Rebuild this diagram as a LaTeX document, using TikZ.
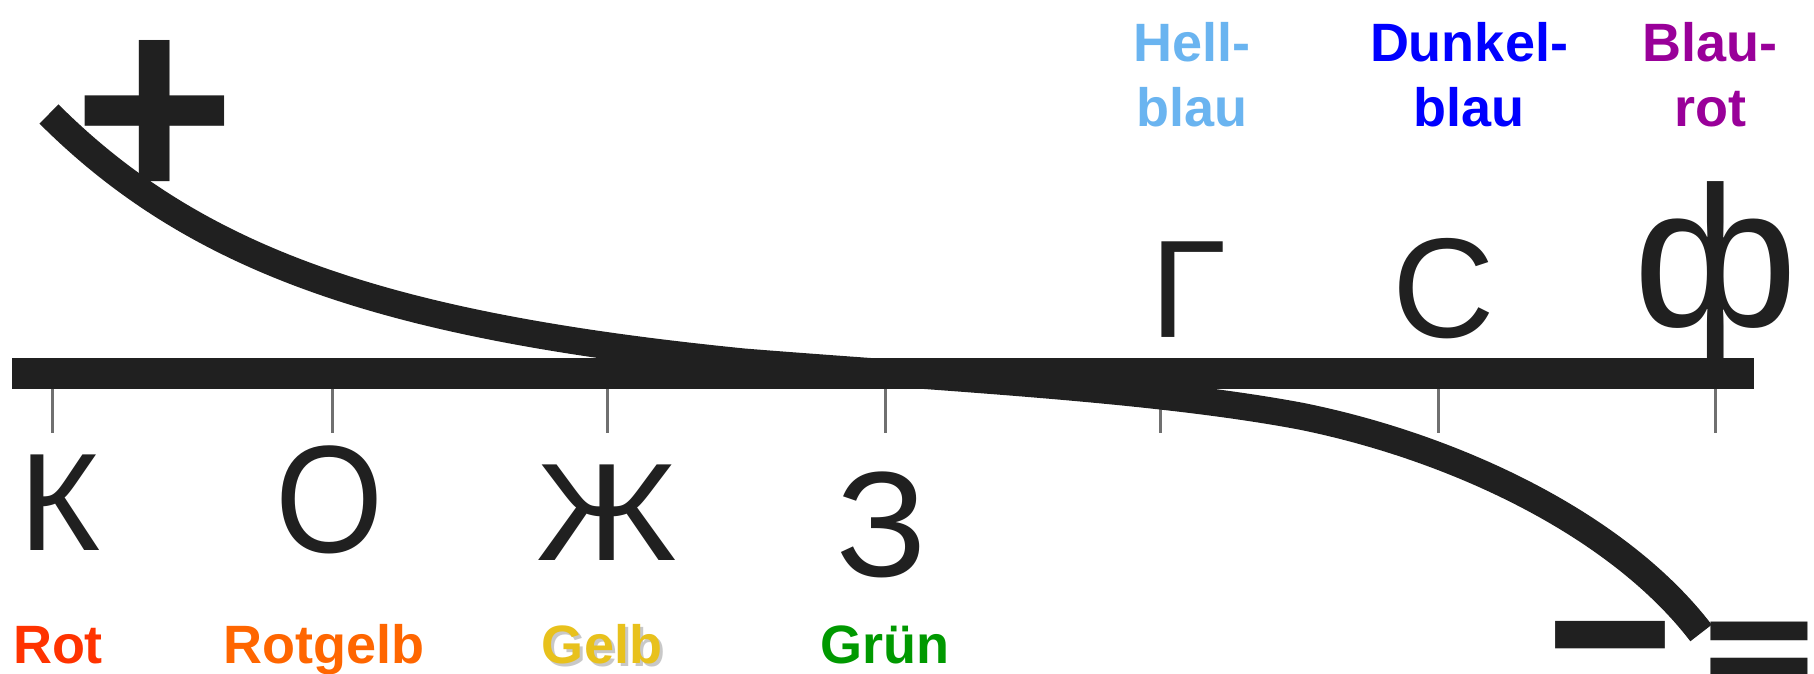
\documentclass[tikz,border=0pt]{standalone}
\usepackage{fontspec}
\setmainfont{Liberation Sans}
\newfontfamily\eqfont{DejaVu Sans}
\definecolor{inkc}{HTML}{202020}
\definecolor{tickc}{HTML}{707070}
\definecolor{crot}{HTML}{FF3300}
\definecolor{crotgelb}{HTML}{FF6600}
\definecolor{cgelb}{HTML}{E8C11C}
\definecolor{cgruen}{HTML}{009900}
\definecolor{chell}{HTML}{6AB4F0}
\definecolor{cdunkel}{HTML}{0000FF}
\definecolor{cblaurot}{HTML}{990099}
\definecolor{shadowc}{HTML}{C8C8C8}
\begin{document}
\begin{tikzpicture}[x=1pt,y=-1pt,
  lett/.style={inner sep=0pt, anchor=base, text=inkc, font=\fontsize{139}{139}\selectfont},
  lab/.style={inner sep=0pt, anchor=base, align=center, font=\fontsize{54}{65}\selectfont\bfseries},
  symb/.style={inner sep=0pt, anchor=center, text=inkc},
  tickln/.style={draw=tickc, line width=3pt}]
\fill[white] (0,0) rectangle (1814,674);
\useasboundingbox (0,0) rectangle (1814,674);
% horizontal bar
\fill[inkc] (12,358) rectangle (1754,389);
% ticks
\foreach \x in {52,332,607,885,1160,1438,1715} \draw[tickln] (\x,389) -- (\x,433);
% curve
\draw[inkc, line width=27pt, line cap=butt]
  (49,114) .. controls (199,264) and (394,327) .. (744,362)
  .. controls (944,378) and (1150,388) .. (1300,416)
  .. controls (1450,446) and (1616,522) .. (1701,633);
% letters
\node[lett] (k) at (60,550) {К};
\node[lett] (o) at (330,552) {\scalebox{1}[1.1]{О}};
\node[lett] (zh) at (607,560) {\scalebox{1.1}[1]{Ж}};
\node[lett, font=\fontsize{150}{150}\selectfont] (z) at (882,576) {З};
\node[lett] (g) at (1188,337) {Г};
\node[lett, font=\fontsize{142}{142}\selectfont] (s) at (1444,337) {С};
\node[lett, font=\fontsize{200}{200}\selectfont] (f) at (1716,326) {ф};
% colour labels
\node[lab, text=crot] (rot) at (58,663) {Rot};
\node[lab, text=crotgelb] (rotgelb) at (324,663) {Rotgelb};
\node[lab, text=cgelb] (gelb) at (602,663) {\makebox[0pt][l]{\color{shadowc}\hspace{3pt}\raisebox{-3pt}{Gelb}}Gelb};
\node[lab, text=cgruen] (gruen) at (885,663) {Grün};
\node[lab, text=chell] (hell) at (1192,127) {Hell-\\blau};
\node[lab, text=cdunkel] (dunkel) at (1469,127) {Dunkel-\\blau};
\node[lab, text=cblaurot] (blaurot) at (1710,127) {Blau-\\rot};
% signs
\node[symb, font=\fontsize{278}{278}\selectfont\bfseries] (plus) at (155,122) {+};
\node[symb, font=\fontsize{228}{228}\selectfont\bfseries] (minus) at (1610,670) {\scalebox{0.96}[1.1]{−}};
\node[symb, font=\fontsize{155}{155}\selectfont\eqfont\bfseries] (eq) at (1759,661) {\scalebox{1}[1.05]{=}};
\end{tikzpicture}
\end{document}
